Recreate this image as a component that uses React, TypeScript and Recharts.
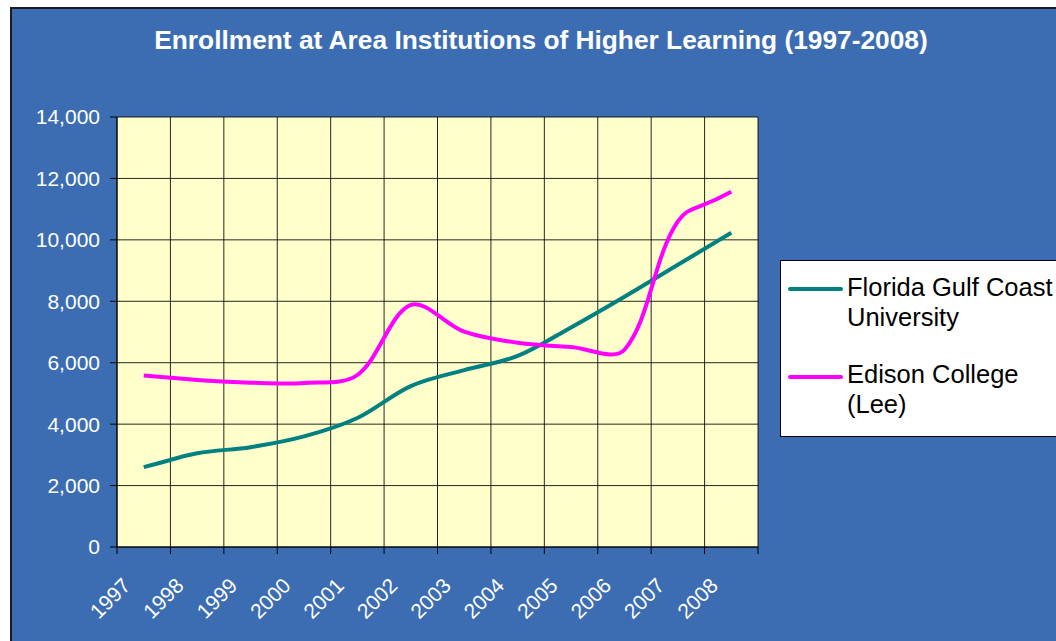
import React from 'react';
import { LineChart, Line, XAxis, YAxis, CartesianGrid, Legend } from 'recharts';

const years = ['1997', '1998', '1999', '2000', '2001', '2002', '2003', '2004', '2005', '2006', '2007', '2008'];
const fgcu = [2600, 3050, 3250, 3600, 4200, 5240, 5760, 6220, 7150, 8150, 9190, 10230];
const edison = [5580, 5440, 5350, 5340, 5600, 7880, 7010, 6650, 6510, 6420, 10600, 11570];
const seriesNames = ['Florida Gulf Coast University', 'Edison College (Lee)'];
const legendLines = [['Florida Gulf Coast', 'University'], ['Edison College', '(Lee)']];
const yTicks = [0, 2000, 4000, 6000, 8000, 10000, 12000, 14000];
const title = 'Enrollment at Area Institutions of Higher Learning (1997-2008)';

const data = years.map((y, i) => ({ pos: i + 0.5, year: y, fgcu: fgcu[i], edison: edison[i] }));
const xTicks = Array.from({ length: years.length + 1 }, (_, i) => i);

const FONT = '"Liberation Sans", Arial, Helvetica, sans-serif';
const W = 1056;
const H = 641;
const PLOT = { left: 117, top: 117, right: 758, bottom: 547 };
const X_AXIS_H = 60;

// Excel-like smoothing: cardinal spline with tangents weighted by screen-space segment lengths
const smoothCurve: any = (context: any) => {
  let pts: number[][] = [];
  const dist = (a: number[], b: number[]) => Math.hypot(b[0] - a[0], b[1] - a[1]);
  return {
    areaStart() {},
    areaEnd() {},
    lineStart() { pts = []; },
    lineEnd() {
      const n = pts.length;
      if (!n) return;
      context.moveTo(pts[0][0], pts[0][1]);
      for (let i = 0; i < n - 1; i++) {
        const p0 = pts[i - 1] || pts[i];
        const p1 = pts[i];
        const p2 = pts[i + 1];
        const p3 = pts[i + 2] || p2;
        const d01 = dist(p0, p1);
        const d12 = dist(p1, p2);
        const d23 = dist(p2, p3);
        const fa = d01 + d12 > 0 ? d12 / (d01 + d12) / 3 : 0;
        const fb = d12 + d23 > 0 ? d12 / (d12 + d23) / 3 : 0;
        const ka = i === 0 ? 2 * fa : fa;
        const kb = i === n - 2 ? 2 * fb : fb;
        context.bezierCurveTo(
          p1[0] + (p2[0] - p0[0]) * ka, p1[1] + (p2[1] - p0[1]) * ka,
          p2[0] - (p3[0] - p1[0]) * kb, p2[1] - (p3[1] - p1[1]) * kb,
          p2[0], p2[1]
        );
      }
    },
    point(x: number, y: number) { pts.push([+x, +y]); },
  };
};

const XTick = (props: any) => {
  const { x, payload } = props;
  const i = payload.value;
  if (i >= years.length) return null;
  const band = (PLOT.right - PLOT.left) / years.length;
  const ax = x + band / 2 - 12;
  const ay = PLOT.bottom + 40;
  return (
    <text x={ax} y={ay} transform={`rotate(-45 ${ax} ${ay})`} textAnchor="end" fill="#ffffff" fontSize={21} fontFamily={FONT}>
      {years[i]}
    </text>
  );
};

const LegendBox = (props: any) => {
  const payload = props.payload || [];
  const rows = [
    { lineY: 29, base: [36, 66] },
    { lineY: 117, base: [123, 153] },
  ];
  return (
    <div style={{ width: 300, height: 177, background: '#ffffff', border: '1px solid #000', boxSizing: 'border-box', position: 'relative' }}>
      <svg width={300} height={177} style={{ position: 'absolute', left: -1, top: -1 }}>
        {seriesNames.map((name, idx) => {
          const p = payload.find((e: any) => e.value === name);
          if (!p) return null;
          const r = rows[idx];
          const lines = legendLines[idx];
          return (
            <g key={name}>
              <line x1={10} x2={61} y1={r.lineY} y2={r.lineY} stroke={p.color} strokeWidth={4} strokeLinecap="round" />
              {lines.map((t: string, k: number) => (
                <text key={k} x={67} y={r.base[k]} fontSize={25.5} fontFamily={FONT} fill="#000">{t}</text>
              ))}
            </g>
          );
        })}
      </svg>
    </div>
  );
};

export default function App() {
  return (
    <div style={{ position: 'absolute', left: 0, top: 0, width: W, height: H, overflow: 'hidden', background: '#ffffff' }}>
      <div style={{ position: 'absolute', left: 10, top: 7, width: 1100, height: 700, background: '#3C6DB3', border: '2px solid #1c1c24', boxSizing: 'border-box' }} />
      <div style={{ position: 'absolute', left: 0, top: 27, width: 1082, textAlign: 'center', color: '#fff', fontFamily: FONT, fontWeight: 'bold', fontSize: 26.3, lineHeight: '26px', whiteSpace: 'nowrap' }}>
        {title}
      </div>
      <div style={{ position: 'absolute', left: 0, top: 0 }}>
        <LineChart
          width={W}
          height={H}
          data={data}
          margin={{ top: PLOT.top, left: 0, right: W - PLOT.right, bottom: H - PLOT.bottom - X_AXIS_H }}
        >
          <CartesianGrid fill="#FFFFCC" fillOpacity={1} stroke="#000" strokeOpacity={0.85} />
          <XAxis
            dataKey="pos"
            type="number"
            domain={[0, years.length]}
            ticks={xTicks}
            interval={0}
            height={X_AXIS_H}
            tickSize={7}
            tickLine={{ stroke: '#000' }}
            axisLine={{ stroke: '#000' }}
            tick={<XTick />}
            allowDataOverflow
          />
          <YAxis
            type="number"
            domain={[0, 14000]}
            ticks={yTicks}
            interval={0}
            width={PLOT.left}
            tickSize={7}
            tickMargin={10}
            tickLine={{ stroke: '#000' }}
            axisLine={{ stroke: '#000' }}
            tick={{ fill: '#ffffff', fontSize: 21, fontFamily: FONT }}
            tickFormatter={(v: number) => v.toLocaleString('en-US')}
          />
          <Legend
            layout="vertical"
            align="center"
            verticalAlign="middle"
            content={<LegendBox />}
            wrapperStyle={{ position: 'absolute', left: 780, top: 260, width: 300, height: 177, right: 'auto', bottom: 'auto' }}
          />
          <Line name={seriesNames[0]} dataKey="fgcu" stroke="#008080" strokeWidth={4} type={smoothCurve} dot={false} activeDot={false} isAnimationActive={false} />
          <Line name={seriesNames[1]} dataKey="edison" stroke="#FF00FF" strokeWidth={4} type={smoothCurve} dot={false} activeDot={false} isAnimationActive={false} />
        </LineChart>
      </div>
    </div>
  );
}
